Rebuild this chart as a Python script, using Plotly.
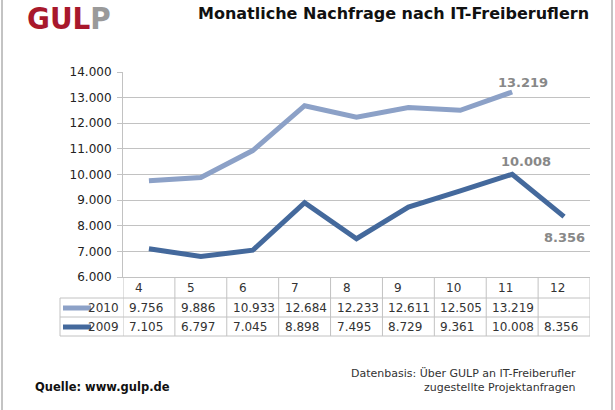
import plotly.graph_objects as go

months = ["4", "5", "6", "7", "8", "9", "10", "11", "12"]
values_2010 = [9756, 9886, 10933, 12684, 12233, 12611, 12505, 13219, None]
values_2009 = [7105, 6797, 7045, 8898, 7495, 8729, 9361, 10008, 8356]
series_names = ["2010", "2009"]
colors = ["#8CA1C7", "#44699C"]

W, H = 615, 410
L, R, T, B = 123, 590, 72, 277  # plot area in pixels


def px(x):
    return (x - L) / (R - L)


def py(y):
    return (B - y) / (B - T)


def fmt(v):
    return "" if v is None else f"{v:,}".replace(",", ".")


fig = go.Figure()
for name, vals, col in zip(series_names, [values_2010, values_2009], colors):
    fig.add_trace(go.Scatter(x=list(range(len(months))), y=vals, mode="lines", name=name,
                             line=dict(color=col, width=5), connectgaps=False,
                             showlegend=False, hoverinfo="skip"))

ann = []
shapes = []
grid = "#c2c2c2"
lblfont = dict(size=13, color="#888888", family="DejaVu Sans")

# data labels
last10 = max(i for i, v in enumerate(values_2010) if v is not None)
ann.append(dict(x=last10, y=values_2010[last10], xref="x", yref="y",
                text="<b>" + fmt(values_2010[last10]) + "</b>", xanchor="center", yanchor="middle",
                showarrow=False, xshift=11, yshift=10, font=lblfont))
imax = values_2009.index(max(values_2009))
ann.append(dict(x=imax, y=values_2009[imax], xref="x", yref="y",
                text="<b>" + fmt(values_2009[imax]) + "</b>", xanchor="center", yanchor="middle",
                showarrow=False, xshift=14, yshift=13, font=lblfont))
ilast = len(values_2009) - 1
ann.append(dict(x=ilast, y=values_2009[ilast], xref="x", yref="y",
                text="<b>" + fmt(values_2009[ilast]) + "</b>", xanchor="center", yanchor="middle",
                showarrow=False, xshift=0, yshift=-21, font=lblfont))

# table
row_lines = [277, 298, 317, 336]
row_centers = [288, 308, 327]
tfont = dict(size=12, color="#333333", family="DejaVu Sans")
n = len(months)
for i in range(n + 1):
    shapes.append(dict(type="line", xref="x", yref="paper", x0=i - 0.5, x1=i - 0.5,
                       y0=py(277), y1=py(336), line=dict(color=grid, width=1)))
shapes.append(dict(type="line", xref="paper", yref="paper", x0=px(60), x1=px(60),
                   y0=py(298), y1=py(336), line=dict(color=grid, width=1)))
for yl in row_lines[1:]:
    shapes.append(dict(type="line", xref="paper", yref="paper", x0=px(60), x1=1,
                       y0=py(yl), y1=py(yl), line=dict(color=grid, width=1)))
for i, m in enumerate(months):
    ann.append(dict(x=i - 0.5, y=py(row_centers[0]), xref="x", yref="paper", text=m, showarrow=False,
                    xanchor="left", yanchor="middle", xshift=10, font=tfont))
for r, (name, vals, col) in enumerate(zip(series_names, [values_2010, values_2009], colors)):
    yc = row_centers[r + 1]
    for i, v in enumerate(vals):
        if v is None:
            continue
        ann.append(dict(x=i - 0.5, y=py(yc), xref="x", yref="paper", text=fmt(v), showarrow=False,
                        xanchor="left", yanchor="middle", xshift=4, font=tfont))
    shapes.append(dict(type="line", xref="paper", yref="paper", x0=px(63), x1=px(91),
                       y0=py(yc), y1=py(yc), line=dict(color=col, width=5)))
    ann.append(dict(x=px(121), y=py(yc), xref="paper", yref="paper", text=name, showarrow=False,
                    xanchor="right", yanchor="middle", font=tfont))

# outer border
for xb in [2, 612]:
    shapes.append(dict(type="line", xref="paper", yref="paper", x0=px(xb), x1=px(xb),
                       y0=py(0), y1=py(410), line=dict(color="#888888", width=1)))

# title, logo, footer
ann.append(dict(x=px(196), y=py(14), xref="paper", yref="paper", xanchor="left", yanchor="middle",
                text="<b>Monatliche Nachfrage nach IT-Freiberuflern</b>", showarrow=False,
                font=dict(size=16, color="#111111", family="DejaVu Sans")))
ann.append(dict(x=px(25), y=py(18), xref="paper", yref="paper", xanchor="left", yanchor="middle",
                text="<b><span style='color:#A8182C'>GUL</span><span style='color:#9a9a9a'>P</span></b>",
                showarrow=False,
                font=dict(size=31, family="DejaVu Sans Condensed, Liberation Sans, sans-serif")))
ann.append(dict(x=px(33), y=py(387), xref="paper", yref="paper", xanchor="left", yanchor="middle",
                text="<b>Quelle: www.gulp.de</b>", showarrow=False,
                font=dict(size=11.5, color="#111111", family="DejaVu Sans")))
ann.append(dict(x=px(578), y=py(380.5), xref="paper", yref="paper", xanchor="right", yanchor="middle",
                align="right",
                text="Datenbasis: Über GULP an IT-Freiberufler<br>zugestellte Projektanfragen", showarrow=False,
                font=dict(size=11, color="#333333", family="DejaVu Sans")))

fig.update_layout(
    width=W, height=H, margin=dict(l=L, r=W - R, t=T, b=H - B),
    paper_bgcolor="white", plot_bgcolor="white",
    separators=",.",
    showlegend=False,
    annotations=ann, shapes=shapes,
    xaxis=dict(range=[-0.5, n - 0.5], showticklabels=False, showgrid=False, zeroline=False,
               showline=True, linecolor=grid, ticks=""),
    yaxis=dict(range=[6000, 14000], dtick=1000, tickformat=",", showgrid=True, gridcolor=grid,
               zeroline=False, showline=True, linecolor=grid, ticks="outside", ticklen=5, tickcolor=grid,
               ticklabelstandoff=3,
               tickfont=dict(size=12, color="#222222", family="DejaVu Sans")),
)
fig.write_html("out.html")
